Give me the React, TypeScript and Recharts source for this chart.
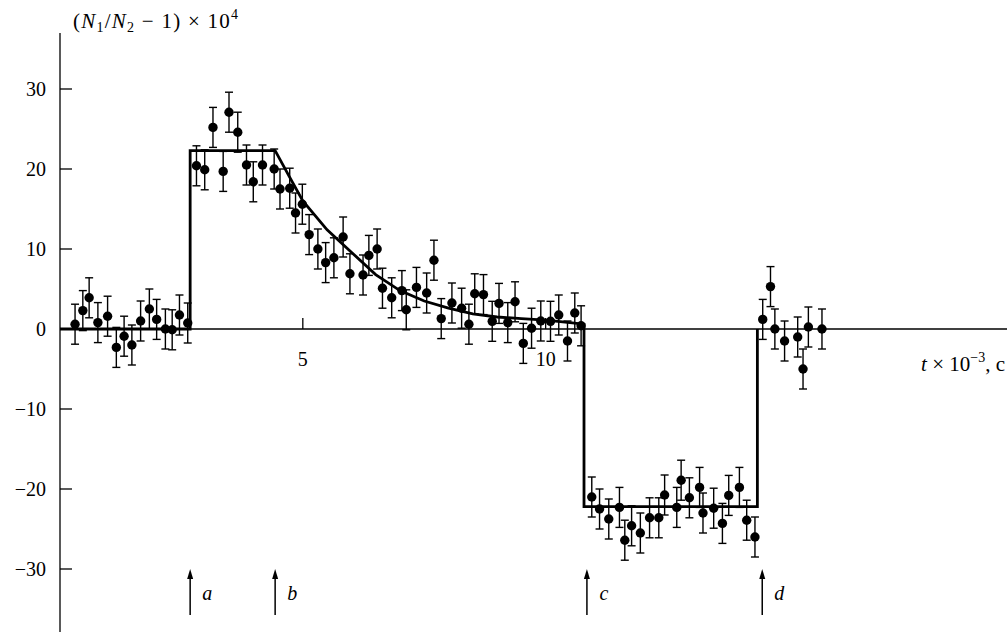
import React from 'react'
import { ComposedChart, XAxis, YAxis, Line, Scatter, ErrorBar, ReferenceLine } from 'recharts'

// measured points, t (x 10^3 s) and (N1/N2 - 1) x 10^4
const pointT = [
  0.31, 0.47, 0.6, 0.78, 0.98, 1.16, 1.32, 1.48, 1.66, 1.84, 1.99, 2.17, 2.31, 2.46, 2.63,
  2.81, 2.98, 3.15, 3.36, 3.48, 3.66, 3.84, 3.98, 4.17, 4.41, 4.53, 4.73, 4.85, 4.99, 5.13, 5.31, 5.47,
  5.64, 5.83, 5.97, 6.24, 6.36, 6.53, 6.64, 6.83, 7.04, 7.13, 7.34, 7.55, 7.7, 7.85, 8.07,
  8.27, 8.42, 8.54, 8.72, 8.9, 9.04, 9.22, 9.37, 9.54, 9.71, 9.9, 10.1, 10.27, 10.45, 10.6, 10.73,
  10.95, 11.11, 11.3, 11.52, 11.63, 11.77, 11.95, 12.14, 12.33, 12.45, 12.7, 12.79, 12.96, 13.17,
  13.24, 13.46, 13.64, 13.77, 13.99, 14.14, 14.31,
  14.47, 14.63, 14.72, 14.92, 15.19, 15.3, 15.41, 15.69,
]
const pointV = [
  0.6, 2.3, 3.9, 0.8, 1.6, -2.3, -0.9, -2.0, 1.0, 2.5, 1.2, 0.0, -0.1, 1.75, 0.75,
  20.4, 19.9, 25.2, 19.7, 27.1, 24.6, 20.5, 18.4, 20.5, 20.0, 17.5, 17.6, 14.5, 15.6, 11.8, 10.0, 8.3,
  8.9, 11.5, 6.9, 6.75, 9.2, 10.0, 5.1, 3.9, 4.8, 2.4, 5.2, 4.5, 8.6, 1.3, 3.25,
  2.6, 0.6, 4.4, 4.3, 0.96, 3.2, 0.8, 3.4, -1.8, 0.1, 1.0, 0.96, 1.75, -1.5, 2.0, 0.4,
  -21.0, -22.5, -23.75, -22.3, -26.4, -24.6, -25.5, -23.6, -23.6, -20.75, -22.3, -18.9, -21.1, -19.8,
  -23.0, -22.4, -24.3, -20.8, -19.8, -23.9, -26.0,
  1.2, 5.3, 0, -1.5, -1.0, -5.0, 0.25, 0,
]
const ERR = 2.5

// fitted step / decay curve
const fitT = [0, 2.68, 2.68, 4.43, 4.7, 5.0, 5.5, 6.0, 6.5, 7.0, 7.5, 8.0, 8.5, 9.0, 9.5, 10.0, 10.5, 10.79, 10.79, 14.36, 14.36]
const fitV = [0, 0, 22.3, 22.3, 19.3, 16.0, 12.4, 9.6, 6.8, 4.8, 3.5, 2.6, 1.9, 1.5, 1.3, 1.1, 0.8, 0.6, -22.2, -22.2, 0]

// event markers
const arrowT = [2.68, 4.43, 10.85, 14.46]
const arrowLabels = ['a', 'b', 'c', 'd']
const ARROW_V = -30

const yTicks = [-30, -20, -10, 0, 10, 20, 30]
const xTicks = [5, 10]

const W = 1007
const H = 633
const TOP = 33
const LEFT = 60
const Y_MIN = -38
const Y_MAX = 37
const X_MAX = 19.5
const ZERO_Y = TOP + (Y_MAX / (Y_MAX - Y_MIN)) * (H - TOP)
const FONT = '"Liberation Serif", "Times New Roman", serif'

const points = pointT.map((t, i) => ({ t, v: pointV[i], err: ERR }))
const fit = fitT.map((t, i) => ({ t, v: fitV[i] }))
const arrows = arrowT.map((t, i) => ({ t, v: ARROW_V, label: arrowLabels[i] }))
const xTickMarks = xTicks.map((t) => ({ t, v: 0, label: `${t}` }))

const fmt = (v: number) => (v < 0 ? `\u2212${Math.abs(v)}` : `${v}`)

function YTick(props: any) {
  const { y, payload } = props
  return (
    <g>
      <line x1={LEFT} x2={LEFT + 12} y1={y} y2={y} stroke="#000" strokeWidth={1.3} />
      <text x={LEFT - 14} y={y} textAnchor="end" dominantBaseline="central" fontSize={20} fontFamily={FONT} fill="#000">
        {fmt(payload.value)}
      </text>
    </g>
  )
}

function XTickMark(props: any) {
  const { cx, cy, payload } = props
  return (
    <g>
      <line x1={cx} x2={cx} y1={cy} y2={cy - 11} stroke="#000" strokeWidth={1.3} />
      <text x={cx} y={cy + 30} textAnchor="middle" dominantBaseline="central" fontSize={20} fontFamily={FONT} fill="#000">
        {payload.label}
      </text>
    </g>
  )
}

function Dot(props: any) {
  const { cx, cy } = props
  return <circle cx={cx} cy={cy} r={4.7} fill="#000" />
}

function Arrow(props: any) {
  const { cx, cy, payload } = props
  return (
    <g>
      <line x1={cx} x2={cx} y1={cy + 6} y2={cy + 46} stroke="#000" strokeWidth={1.5} />
      <path d={`M${cx},${cy} L${cx - 3},${cy + 10} L${cx + 3},${cy + 10} Z`} fill="#000" />
      <text x={cx + 17} y={cy + 24} textAnchor="middle" dominantBaseline="central" fontSize={20} fontStyle="italic" fontFamily={FONT} fill="#000">
        {payload.label}
      </text>
    </g>
  )
}

export default function App() {
  return (
    <div style={{ width: W, height: 632, overflow: 'hidden', background: '#fff', position: 'relative' }}>
      <style>{`body { margin: 0; }`}</style>
      <ComposedChart width={W} height={H} margin={{ top: TOP, right: 0, bottom: 0, left: 0 }}>
        <XAxis dataKey="t" type="number" domain={[0, X_MAX]} allowDataOverflow height={0} hide />
        <YAxis
          type="number"
          domain={[Y_MIN, Y_MAX]}
          allowDataOverflow
          ticks={yTicks}
          interval={0}
          width={LEFT}
          axisLine={{ stroke: '#000', strokeWidth: 1.3 }}
          tickLine={false}
          tick={<YTick />}
        />
        <ReferenceLine y={0} stroke="#000" strokeWidth={1.3} />
        <Line
          data={fit}
          dataKey="v"
          type="linear"
          stroke="#000"
          strokeWidth={2.8}
          dot={false}
          activeDot={false}
          isAnimationActive={false}
        />
        <Scatter data={points} dataKey="v" shape={<Dot />} isAnimationActive={false}>
          <ErrorBar dataKey="err" direction="y" width={4} stroke="#000" strokeWidth={1.4} />
        </Scatter>
        <Scatter data={xTickMarks} dataKey="v" shape={<XTickMark />} isAnimationActive={false} />
        <Scatter data={arrows} dataKey="v" shape={<Arrow />} isAnimationActive={false} />
      </ComposedChart>
      <svg width={W} height={60} style={{ position: 'absolute', left: 0, top: 0 }}>
        <text x={73} y={28} fontSize={21} fontFamily={FONT} fill="#000" textLength={165} lengthAdjust="spacing">
          (<tspan fontStyle="italic">N</tspan>
          <tspan fontSize={14} dy={4}>1</tspan>
          <tspan dy={-4}>/</tspan>
          <tspan fontStyle="italic">N</tspan>
          <tspan fontSize={14} dy={4}>2</tspan>
          <tspan dy={-4}>{' \u2212 1) \u00d7 10'}</tspan>
          <tspan fontSize={14} dy={-9}>4</tspan>
        </text>
      </svg>
      <svg width={W} height={60} style={{ position: 'absolute', left: 0, top: ZERO_Y + 10 }}>
        <text x={1005} y={32} textAnchor="end" fontSize={21} fontFamily={FONT} fill="#000">
          <tspan fontStyle="italic">t</tspan>
          <tspan>{' \u00d7 10'}</tspan>
          <tspan fontSize={14} dy={-9}>{'\u22123'}</tspan>
          <tspan dy={9}>, c</tspan>
        </text>
      </svg>
    </div>
  )
}
